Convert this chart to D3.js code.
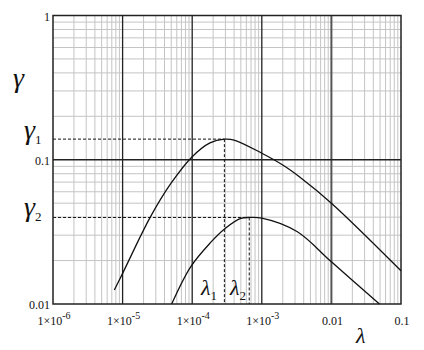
<!DOCTYPE html>
<html>
<head>
<meta charset="utf-8">
<script src="https://cdn.jsdelivr.net/npm/d3@7"></script>
<style>
  html, body { margin: 0; padding: 0; background: #fff; }
  svg { display: block; }
</style>
</head>
<body>
<svg id="chart" width="424" height="350" font-family="'Liberation Serif', serif"></svg>
<script>
// Curve 1: gamma as a function of lambda (upper curve)
const lambdaA = [7.6e-6, 1e-5, 2.5e-5, 5e-5, 1e-4, 1.8e-4, 2.9e-4, 4e-4, 1e-3, 2e-3, 3.5e-3, 0.01, 0.1];
const gammaA  = [0.0125, 0.0163, 0.040, 0.069, 0.105, 0.131, 0.139, 0.137, 0.111, 0.092, 0.076, 0.050, 0.017];
// Curve 2: lower curve
const lambdaB = [5.07e-5, 9.5e-5, 1.8e-4, 3e-4, 5e-4, 6.6e-4, 1e-3, 3.2e-3, 0.01, 0.049];
const gammaB  = [0.010, 0.0181, 0.0264, 0.0335, 0.0392, 0.0398, 0.0394, 0.0318, 0.0196, 0.010];
// Maxima marked with dashed guides
const peakLambda = [2.9e-4, 6.6e-4];
const peakGamma  = [0.139, 0.0398];
// Axis ticks
const xTicks = [1e-6, 1e-5, 1e-4, 1e-3, 0.01, 0.1];
const xTickLabels = [["1×10", "-6"], ["1×10", "-5"], ["1×10", "-4"], ["1×10", "-3"], ["0.01", ""], ["0.1", ""]];
const yTicks = [0.01, 0.1, 1];
const yTickLabels = ["0.01", "0.1", "1"];

const svg = d3.select("#chart");
const x = d3.scaleLog().domain([1e-6, 0.1]).range([53, 401]);
const y = d3.scaleLog().domain([0.01, 1]).range([304, 15.5]);
const ink = "#111";

// minor grid values: 2..9 in each decade
const minorX = [], minorY = [];
for (let e = -6; e < -1; e++) for (let m = 2; m <= 9; m++) minorX.push(m * Math.pow(10, e));
for (let e = -2; e < 0; e++) for (let m = 2; m <= 9; m++) minorY.push(m * Math.pow(10, e));

const grid = svg.append("g");
grid.selectAll(".gx").data(minorX).enter().append("line")
  .attr("x1", d => x(d)).attr("x2", d => x(d)).attr("y1", y(0.01)).attr("y2", y(1))
  .attr("stroke", "#c4c4c4").attr("stroke-width", 1);
grid.selectAll(".gy").data(minorY).enter().append("line")
  .attr("y1", d => y(d)).attr("y2", d => y(d)).attr("x1", x(1e-6)).attr("x2", x(0.1))
  .attr("stroke", "#c4c4c4").attr("stroke-width", 1);
// decade lines
grid.selectAll(".mx").data(xTicks.slice(1, -1)).enter().append("line")
  .attr("x1", d => x(d)).attr("x2", d => x(d)).attr("y1", y(0.01)).attr("y2", y(1))
  .attr("stroke", (d, i) => i === 3 ? "#555" : "#222").attr("stroke-width", (d, i) => i === 3 ? 2 : 1.3);
grid.append("line")
  .attr("x1", x(1e-6)).attr("x2", x(0.1)).attr("y1", y(0.1)).attr("y2", y(0.1))
  .attr("stroke", "#222").attr("stroke-width", 1.3);

// dashed guides to the maxima
const guides = svg.append("g").attr("stroke", ink).attr("stroke-width", 1).attr("stroke-dasharray", "3,2");
peakLambda.forEach((l, i) => {
  guides.append("line").attr("x1", x(1e-6)).attr("x2", x(l)).attr("y1", y(peakGamma[i])).attr("y2", y(peakGamma[i]));
  guides.append("line").attr("x1", x(l)).attr("x2", x(l)).attr("y1", y(peakGamma[i])).attr("y2", y(0.01));
});

// frame
svg.append("rect").attr("x", x(1e-6)).attr("y", y(1))
  .attr("width", x(0.1) - x(1e-6)).attr("height", y(0.01) - y(1))
  .attr("fill", "none").attr("stroke", "#222").attr("stroke-width", 1.5);

// curves
const line = d3.line().x(d => x(d[0])).y(d => y(d[1])).curve(d3.curveCatmullRom.alpha(0.5));
svg.append("path").datum(d3.zip(lambdaA, gammaA)).attr("d", line)
  .attr("fill", "none").attr("stroke", ink).attr("stroke-width", 1.3);
svg.append("path").datum(d3.zip(lambdaB, gammaB)).attr("d", line)
  .attr("fill", "none").attr("stroke", ink).attr("stroke-width", 1.3);

// y tick labels
svg.selectAll(".yl").data(yTicks).enter().append("text")
  .attr("x", 50).attr("y", d => y(d) + 5).attr("text-anchor", "end")
  .attr("font-size", 12).attr("fill", ink).text((d, i) => yTickLabels[i]);

// x tick labels with superscript exponents
xTicks.forEach((d, i) => {
  const t = svg.append("text").attr("x", x(d) + 1).attr("y", 325)
    .attr("text-anchor", "middle").attr("font-size", 12).attr("fill", ink);
  t.append("tspan").text(xTickLabels[i][0]);
  if (xTickLabels[i][1]) t.append("tspan").attr("dy", -6).attr("font-size", 10).text(xTickLabels[i][1]);
});

// axis symbols
svg.append("text").attr("x", 13).attr("y", 87).attr("font-size", 28).attr("font-style", "italic").attr("fill", ink).text("γ");
svg.append("text").attr("x", 356).attr("y", 343).attr("font-size", 22).attr("font-style", "italic").attr("fill", ink).text("λ");

// labels of the maxima
function sym(xp, yp, ch, sub, size) {
  const t = svg.append("text").attr("x", xp).attr("y", yp).attr("font-size", size)
    .attr("font-style", "italic").attr("fill", ink);
  t.append("tspan").text(ch);
  t.append("tspan").attr("dy", 5).attr("font-size", 13).attr("font-style", "normal").text(sub);
}
sym(24, 139, "γ", "1", 28);
sym(24, 216, "γ", "2", 28);
sym(201, 295, "λ", "1", 22);
sym(230, 295, "λ", "2", 22);
</script>
</body>
</html>
